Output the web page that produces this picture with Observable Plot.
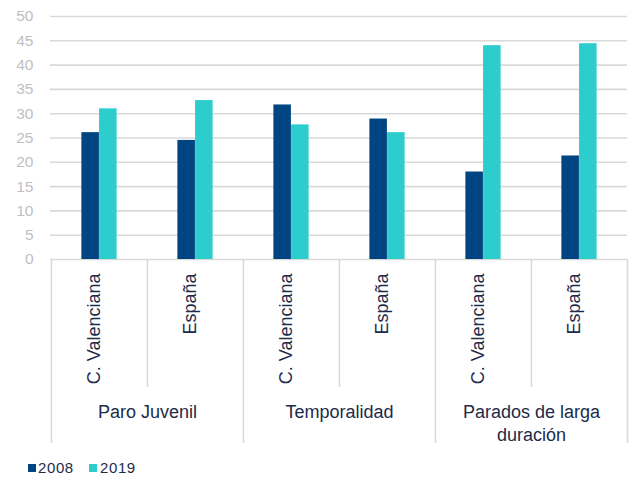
<!DOCTYPE html>
<html>
<head>
<meta charset="utf-8">
<script src="https://cdn.jsdelivr.net/npm/d3@7"></script>
<script src="https://cdn.jsdelivr.net/npm/@observablehq/plot@0.6"></script>
<style>
  body { margin: 0; background: #fff; font-family: "Liberation Sans", Arial, sans-serif; }
  #legend { position: relative; height: 27px; width: 634px; font-size: 15px; color: #1C2B4A; }
  .sw { position: absolute; top: 12px; width: 8px; height: 8px; }
  .lb { position: absolute; top: 8px; line-height: 15px; letter-spacing: 0.6px; }
</style>
</head>
<body>
<div id="chart"></div>
<div id="legend"></div>
<script>
// Data
const groups = ["Paro Juvenil", "Temporalidad", "Parados de larga duración"];
const regions = ["C. Valenciana", "España"];
const series = ["2008", "2019"];
const values2008 = [26.1, 24.5, 31.8, 28.9, 18.0, 21.3];
const values2019 = [31.0, 32.7, 27.7, 26.1, 44.0, 44.4];
const yTicks = [0, 5, 10, 15, 20, 25, 30, 35, 40, 45, 50];
const colors = ["#004481", "#2DCCCD"];

const textColor = "#1C2B4A";
const W = 634, H = 452, ML = 50, MR = 7, MT = 16, MB = 193;
const frameH = H - MT - MB;
const bw = (W - ML - MR) / (groups.length * regions.length);

const keyOf = (g, r) => g + "|" + r;
const rows = [];
groups.forEach((g, gi) => regions.forEach((r, ri) => {
  const i = gi * regions.length + ri;
  rows.push({key: keyOf(g, r), group: g, region: r, year: series[0], value: values2008[i]});
  rows.push({key: keyOf(g, r), group: g, region: r, year: series[1], value: values2019[i]});
}));
const keys = [];
groups.forEach(g => regions.forEach(r => keys.push(keyOf(g, r))));
const cats = keys.map(k => ({key: k, region: k.split("|")[1]}));

const padL = bw * 0.316, barW = bw * 0.184;
const innerLen = 128, outerLen = 184;
const gridStyle = {stroke: "#D9D9D9", strokeOpacity: 1, strokeWidth: 1.6};

const chart = Plot.plot({
  width: W, height: H,
  marginLeft: ML, marginRight: MR, marginTop: MT, marginBottom: MB,
  style: {fontFamily: "'Liberation Sans', Arial, sans-serif", background: "#fff"},
  x: {domain: keys, padding: 0, axis: null},
  y: {domain: [0, 50], axis: null},
  marks: [
    Plot.ruleY(yTicks, {y: d => d, ...gridStyle}),
    Plot.axisY({ticks: yTicks, tickSize: 0, tickPadding: 17, fill: "#BFBFBF", fontSize: 15.5, label: null, style: {letterSpacing: "1px"}}),
    Plot.barY(rows.filter(d => d.year === series[0]), {x: "key", y: "value", fill: colors[0], insetLeft: padL, insetRight: bw - padL - barW}),
    Plot.barY(rows.filter(d => d.year === series[1]), {x: "key", y: "value", fill: colors[1], insetLeft: padL + barW, insetRight: bw - padL - 2 * barW}),
    // inner dividers between regions
    Plot.ruleX(cats.filter(d => d.region === regions[1]), {x: "key", dx: -bw / 2, insetTop: frameH - innerLen, dy: innerLen, ...gridStyle}),
    // outer dividers between groups
    Plot.ruleX(cats.filter(d => d.region === regions[0]), {x: "key", dx: -bw / 2, insetTop: frameH - outerLen, dy: outerLen, ...gridStyle}),
    Plot.ruleX([keys[keys.length - 1]], {x: d => d, dx: bw / 2, insetTop: frameH - outerLen, dy: outerLen, ...gridStyle}),
    // region labels
    Plot.text(cats, {x: "key", text: "region", frameAnchor: "bottom", rotate: -90, textAnchor: "end", dy: 14, fontSize: 18, fill: textColor, style: {letterSpacing: "0.2px"}}),
    // group labels
    Plot.text(groups, {x: d => keyOf(d, regions[0]), text: d => d, dx: bw / 2, frameAnchor: "bottom", lineAnchor: "top", dy: 142, lineWidth: 10, lineHeight: 1.28, fontSize: 18, fill: textColor, style: {letterSpacing: "0.2px"}})
  ]
});
document.getElementById("chart").appendChild(chart);

const legend = document.getElementById("legend");
const legendX = [[28, 38], [89, 100]];
series.forEach((s, i) => {
  const sw = document.createElement("div");
  sw.className = "sw"; sw.style.left = legendX[i][0] + "px"; sw.style.background = colors[i];
  const lb = document.createElement("div");
  lb.className = "lb"; lb.style.left = legendX[i][1] + "px"; lb.textContent = s;
  legend.appendChild(sw); legend.appendChild(lb);
});
</script>
</body>
</html>
